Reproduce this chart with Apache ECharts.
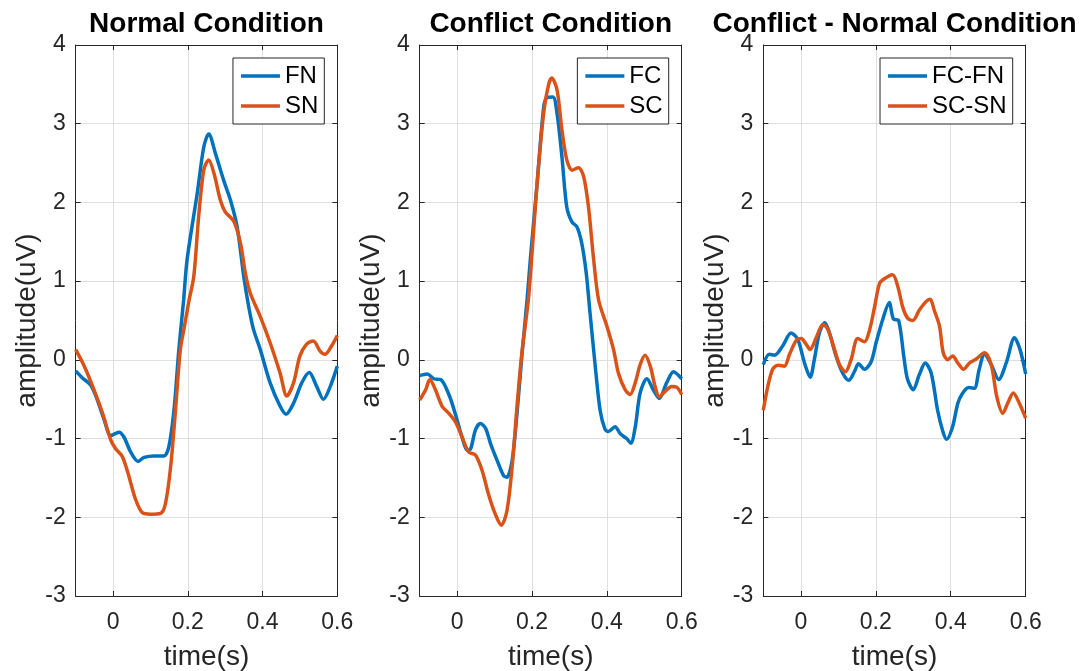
<!DOCTYPE html>
<html lang="en" style="height: 100%">
<head>
    <meta charset="UTF-8">
    <title>ERP amplitude</title>
    <script src="https://cdn.jsdelivr.net/npm/echarts@6/dist/echarts.min.js"></script>
</head>
<body style="height: 100%; margin: 0; background: #fff">
<div id="main" style="width: 1085px; height: 671px"></div>
<script>
    // tick labels
    var xTicks = [0, 0.2, 0.4, 0.6];
    var yTicks = [-3, -2, -1, 0, 1, 2, 3, 4];
    var titles = ['Normal Condition', 'Conflict Condition', 'Conflict - Normal Condition'];
    var legends = [['FN', 'SN'], ['FC', 'SC'], ['FC-FN', 'SC-SN']];

    // Normal condition
    var fnTime = [-0.1, -0.082, -0.06, -0.042, -0.024, -0.006, 0.016, 0.029, 0.047, 0.067, 0.083, 0.109, 0.136, 0.149, 0.163, 0.176, 0.189, 0.198, 0.225, 0.243, 0.256, 0.274, 0.296, 0.314, 0.332, 0.35, 0.362, 0.375, 0.394, 0.42, 0.447, 0.463, 0.483, 0.505, 0.525, 0.545, 0.563, 0.581, 0.6];
    var fnAmp = [-0.14, -0.23, -0.32, -0.51, -0.76, -0.96, -0.92, -0.98, -1.17, -1.29, -1.24, -1.22, -1.22, -1.11, -0.64, 0.13, 0.77, 1.27, 2.11, 2.71, 2.87, 2.62, 2.28, 2.03, 1.69, 1.05, 0.7, 0.4, 0.13, -0.29, -0.59, -0.69, -0.55, -0.29, -0.16, -0.34, -0.5, -0.34, -0.08];
    var snTime = [-0.1, -0.077, -0.051, -0.028, -0.006, 0.007, 0.025, 0.043, 0.06, 0.078, 0.1, 0.127, 0.14, 0.154, 0.167, 0.18, 0.19, 0.203, 0.216, 0.229, 0.243, 0.256, 0.27, 0.287, 0.3, 0.323, 0.341, 0.354, 0.367, 0.394, 0.42, 0.447, 0.465, 0.483, 0.5, 0.518, 0.536, 0.554, 0.567, 0.585, 0.6];
    var snAmp = [0.13, -0.08, -0.38, -0.68, -1.02, -1.13, -1.23, -1.49, -1.77, -1.94, -1.96, -1.95, -1.83, -1.36, -0.64, 0.13, 0.4, 0.75, 1.06, 1.82, 2.42, 2.54, 2.37, 2.03, 1.88, 1.76, 1.48, 1.1, 0.85, 0.55, 0.22, -0.17, -0.46, -0.29, 0.05, 0.2, 0.24, 0.11, 0.07, 0.18, 0.31];

    // Conflict condition
    var fcTime = [-0.1, -0.08, -0.062, -0.044, -0.022, -0.004, 0.013, 0.027, 0.036, 0.049, 0.062, 0.076, 0.089, 0.107, 0.124, 0.133, 0.147, 0.16, 0.173, 0.187, 0.196, 0.213, 0.231, 0.24, 0.256, 0.267, 0.28, 0.293, 0.307, 0.32, 0.333, 0.345, 0.355, 0.369, 0.382, 0.395, 0.404, 0.422, 0.436, 0.453, 0.464, 0.476, 0.489, 0.507, 0.524, 0.54, 0.56, 0.578, 0.6];
    var fcAmp = [-0.2, -0.18, -0.24, -0.25, -0.44, -0.7, -0.98, -1.15, -1.13, -0.89, -0.81, -0.87, -1.06, -1.28, -1.47, -1.49, -1.28, -0.68, 0.05, 0.77, 1.3, 2.2, 3.2, 3.33, 3.34, 3.13, 2.58, 1.94, 1.75, 1.69, 1.48, 1.1, 0.6, -0.08, -0.64, -0.88, -0.91, -0.85, -0.94, -1.0, -1.06, -0.85, -0.42, -0.24, -0.38, -0.49, -0.29, -0.15, -0.24];
    var scTime = [-0.1, -0.084, -0.073, -0.058, -0.04, -0.022, -0.004, 0.013, 0.031, 0.049, 0.067, 0.084, 0.102, 0.118, 0.133, 0.147, 0.16, 0.173, 0.191, 0.213, 0.231, 0.244, 0.253, 0.267, 0.28, 0.293, 0.307, 0.324, 0.338, 0.351, 0.364, 0.378, 0.4, 0.418, 0.431, 0.449, 0.462, 0.476, 0.489, 0.502, 0.516, 0.529, 0.54, 0.556, 0.573, 0.587, 0.6];
    var scAmp = [-0.51, -0.38, -0.25, -0.38, -0.59, -0.68, -0.79, -0.98, -1.17, -1.21, -1.41, -1.71, -1.96, -2.1, -1.92, -1.36, -0.59, 0.09, 0.8, 2.2, 3.13, 3.49, 3.58, 3.43, 2.92, 2.54, 2.41, 2.44, 2.33, 1.94, 1.31, 0.76, 0.43, 0.13, -0.17, -0.38, -0.44, -0.29, -0.06, 0.06, -0.08, -0.34, -0.47, -0.4, -0.34, -0.35, -0.44];

    // Difference waves
    var dfTime = [-0.1, -0.084, -0.07, -0.048, -0.026, -0.008, 0.01, 0.025, 0.036, 0.05, 0.064, 0.076, 0.094, 0.112, 0.128, 0.143, 0.154, 0.17, 0.188, 0.201, 0.219, 0.236, 0.247, 0.261, 0.276, 0.285, 0.3, 0.316, 0.332, 0.348, 0.365, 0.379, 0.389, 0.405, 0.419, 0.432, 0.448, 0.463, 0.476, 0.49, 0.508, 0.528, 0.548, 0.57, 0.585, 0.6];
    var dfAmp = [-0.06, 0.07, 0.06, 0.18, 0.34, 0.26, -0.04, -0.22, 0, 0.35, 0.47, 0.35, 0.05, -0.17, -0.26, -0.15, -0.05, -0.12, -0.02, 0.22, 0.52, 0.73, 0.52, 0.5, 0, -0.25, -0.38, -0.19, -0.04, -0.17, -0.64, -0.91, -1.01, -0.85, -0.55, -0.42, -0.35, -0.36, -0.12, 0.07, -0.06, -0.25, -0.04, 0.28, 0.13, -0.18];
    var dsTime = [-0.1, -0.088, -0.075, -0.061, -0.044, -0.03, -0.012, 0.001, 0.014, 0.025, 0.041, 0.059, 0.072, 0.09, 0.103, 0.119, 0.134, 0.152, 0.17, 0.183, 0.196, 0.21, 0.223, 0.245, 0.259, 0.272, 0.285, 0.299, 0.316, 0.334, 0.345, 0.356, 0.37, 0.38, 0.392, 0.405, 0.419, 0.434, 0.45, 0.468, 0.49, 0.508, 0.523, 0.539, 0.552, 0.567, 0.583, 0.6];
    var dsAmp = [-0.64, -0.34, -0.12, -0.07, -0.08, 0.07, 0.25, 0.27, 0.2, 0.13, 0.28, 0.45, 0.39, 0.13, -0.06, -0.15, 0, 0.27, 0.23, 0.37, 0.65, 0.97, 1.03, 1.08, 0.93, 0.67, 0.53, 0.5, 0.63, 0.74, 0.77, 0.63, 0.43, 0.09, 0, 0.05, -0.04, -0.12, -0.04, 0.01, 0.09, -0.06, -0.47, -0.68, -0.55, -0.42, -0.55, -0.74];

    var blue = '#0072BD', orange = '#D95319', ink = '#262626', gridGray = '#dfdfdf';
    var font = 'Liberation Sans, Arial, Helvetica, sans-serif';

    var panels = [
        {left: 75.7, width: 261.6, curves: [[fnTime, fnAmp], [snTime, snAmp]]},
        {left: 419.7, width: 262, curves: [[fcTime, fcAmp], [scTime, scAmp]]},
        {left: 763.3, width: 262.4, curves: [[dfTime, dfAmp], [dsTime, dsAmp]]}
    ];

    function zip(t, v) {
        return t.map(function (x, i) { return [x, v[i]]; });
    }

    var grid = [], xAxis = [], yAxis = [], series = [], title = [], legend = [];
    panels.forEach(function (p, i) {
        grid.push({left: p.left, top: 45, width: p.width, height: 551, outerBoundsMode: 'none', containLabel: false});
        title.push({
            text: titles[i], left: p.left + p.width / 2, top: 10, textAlign: 'center', padding: 0,
            textStyle: {fontFamily: font, fontSize: 28, fontWeight: 'bold', color: '#000'}
        });
        legend.push({
            data: legends[i], right: 1085 - (p.left + p.width) + 13, top: 58, orient: 'vertical',
            icon: 'rect', itemWidth: 39, itemHeight: 3.5, itemGap: 6, padding: [6, 6, 6, 8],
            borderColor: ink, borderWidth: 1, backgroundColor: '#fff', selectedMode: false,
            textStyle: {fontFamily: font, fontSize: 24, color: '#000', lineHeight: 24}
        });
        xAxis.push({
            gridIndex: i, type: 'value', min: -0.1, max: 0.6, position: 'bottom',
            axisLine: {show: true, onZero: false, lineStyle: {color: ink, width: 1}},
            axisTick: {show: true, inside: true, length: 5, customValues: [0, 0.2, 0.4], lineStyle: {color: ink}},
            axisLabel: {
                customValues: xTicks, margin: 15, fontSize: 23, color: ink, fontFamily: font,
                formatter: function (v) { return String(+v.toFixed(1)); }
            },
            splitLine: {show: true, lineStyle: {color: gridGray, width: 1}},
            name: 'time(s)', nameLocation: 'middle', nameGap: 47,
            nameTextStyle: {fontSize: 28, color: ink, fontFamily: font}
        });
        yAxis.push({
            gridIndex: i, type: 'value', min: -3, max: 4, interval: 1, position: 'left',
            axisLine: {show: true, onZero: false, lineStyle: {color: ink, width: 1}},
            axisTick: {show: true, inside: true, length: 5, lineStyle: {color: ink}},
            axisLabel: {customValues: yTicks, margin: 10, fontSize: 23, color: ink, fontFamily: font},
            splitLine: {show: true, lineStyle: {color: gridGray, width: 1}},
            name: 'amplitude(uV)', nameLocation: 'middle', nameGap: 34,
            nameTextStyle: {fontSize: 28, color: ink, fontFamily: font}
        });
        p.curves.forEach(function (c, k) {
            series.push({
                name: legends[i][k], type: 'line', xAxisIndex: i, yAxisIndex: i,
                data: zip(c[0], c[1]), smooth: 0.3, showSymbol: false, symbol: 'none',
                color: k === 0 ? blue : orange,
                lineStyle: {width: 3.5, color: k === 0 ? blue : orange},
                emphasis: {disabled: true}, z: 3
            });
        });
    });
    // box: top and right axes with inward ticks
    panels.forEach(function (p, i) {
        xAxis.push({
            gridIndex: i, type: 'value', min: -0.1, max: 0.6, position: 'top',
            axisLine: {show: true, onZero: false, lineStyle: {color: ink, width: 1}},
            axisTick: {show: true, inside: true, length: 5, customValues: [0, 0.2, 0.4], lineStyle: {color: ink}},
            axisLabel: {show: false}, splitLine: {show: false}
        });
        yAxis.push({
            gridIndex: i, type: 'value', min: -3, max: 4, interval: 1, position: 'right',
            axisLine: {show: true, onZero: false, lineStyle: {color: ink, width: 1}},
            axisTick: {show: true, inside: true, length: 5, lineStyle: {color: ink}},
            axisLabel: {show: false}, splitLine: {show: false}
        });
    });

    var myChart = echarts.init(document.getElementById('main'));
    myChart.setOption({
        animation: false,
        title: title,
        legend: legend,
        grid: grid,
        xAxis: xAxis,
        yAxis: yAxis,
        series: series
    });
</script>
</body>
</html>
